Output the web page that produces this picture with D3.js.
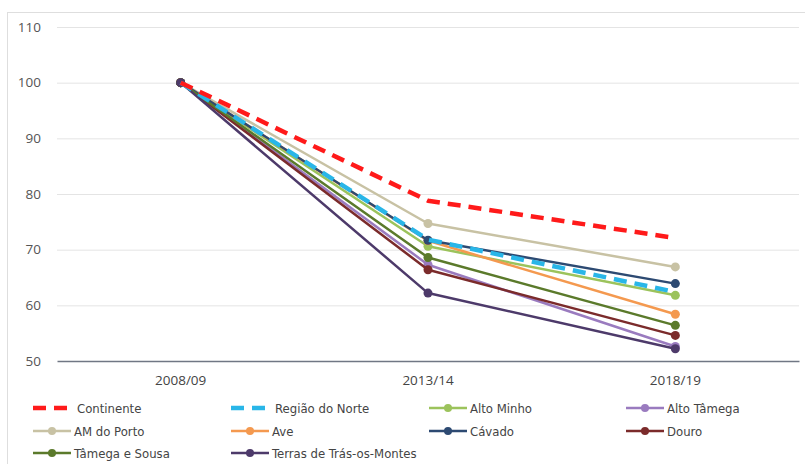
<!DOCTYPE html>
<html>
<head>
<meta charset="utf-8">
<script src="https://cdn.jsdelivr.net/npm/d3@7"></script>
<style>
  html, body { margin: 0; padding: 0; background: #fff; }
  svg { display: block; }
</style>
</head>
<body>
<svg id="chart" width="805" height="464"></svg>
<script>
// School-year periods (x axis)
const periods = ["2008/09", "2013/14", "2018/19"];

// Index values (2008/09 = 100)
const continente      = [100, 78.8, 72.1];
const regiaoNorte     = [100, 71.8, 62.4];
const altoMinho       = [100, 70.6, 61.8];
const altoTamega      = [100, 67.3, 52.6];
const amPorto         = [100, 74.7, 66.9];
const ave             = [100, 71.6, 58.4];
const cavado          = [100, 71.7, 63.9];
const douro           = [100, 66.4, 54.6];
const tamegaSousa     = [100, 68.6, 56.4];
const terrasTrasMontes = [100, 62.2, 52.2];

const yTicks = [50, 60, 70, 80, 90, 100, 110];

const series = [
  { name: "Continente", values: continente, color: "#ff1a1a", dashed: true },
  { name: "Região do Norte", values: regiaoNorte, color: "#29b6e8", dashed: true },
  { name: "Alto Minho", values: altoMinho, color: "#9cc35c" },
  { name: "Alto Tâmega", values: altoTamega, color: "#9a7bbf" },
  { name: "AM do Porto", values: amPorto, color: "#c8c2a4" },
  { name: "Ave", values: ave, color: "#f4994f" },
  { name: "Cávado", values: cavado, color: "#2d4a72" },
  { name: "Douro", values: douro, color: "#7b2b2b" },
  { name: "Tâmega e Sousa", values: tamegaSousa, color: "#5b7a2b" },
  { name: "Terras de Trás-os-Montes", values: terrasTrasMontes, color: "#4d3a6a" }
];

const svg = d3.select("#chart");

// outer frame
svg.append("rect")
  .attr("x", 7.5).attr("y", 12.5)
  .attr("width", 820).attr("height", 470)
  .attr("fill", "none").attr("stroke", "#dedede").attr("stroke-width", 1);

const plot = { left: 57, right: 799, top: 27, bottom: 361 };

const x = d3.scaleBand().domain(periods).range([plot.left, plot.right]);
const y = d3.scaleLinear().domain([50, 110]).range([plot.bottom, plot.top]);
const cx = p => x(p) + x.bandwidth() / 2;

// horizontal gridlines
const yAxis = d3.axisLeft(y).tickValues(yTicks).tickSize(-(plot.right - plot.left)).tickPadding(16);
const gy = svg.append("g").attr("transform", `translate(${plot.left},0)`).call(yAxis);
gy.select(".domain").remove();
gy.selectAll(".tick line").attr("stroke", "#e4e4e4").attr("stroke-width", 1);
gy.selectAll(".tick text")
  .attr("fill", "#555").attr("font-size", 13.5)
  .attr("font-family", "'Open Sans', 'DejaVu Sans', sans-serif");
gy.selectAll(".tick").filter(d => d === 50).select("line").remove();

// x axis
const xAxis = d3.axisBottom(x).tickSize(0).tickPadding(14);
const gx = svg.append("g").attr("transform", `translate(0,${plot.bottom})`).call(xAxis);
gx.select(".domain").attr("stroke", "#707784").attr("stroke-width", 1.6);
gx.selectAll(".tick text")
  .attr("fill", "#444").attr("font-size", 13.5)
  .attr("font-family", "'Open Sans', 'DejaVu Sans', sans-serif");

const line = d3.line().x((d, i) => cx(periods[i])).y(d => y(d));

// draw order: solid regions first, dashed aggregates on top
const drawOrder = series.filter(s => !s.dashed).concat(series.filter(s => s.dashed).reverse());

drawOrder.forEach(s => {
  const g = svg.append("g");
  g.append("path")
    .datum(s.values)
    .attr("d", line)
    .attr("fill", "none")
    .attr("stroke", s.color)
    .attr("stroke-width", s.dashed ? 4.5 : 2.5)
    .attr("stroke-dasharray", s.dashed ? "13,8" : null)
    .attr("stroke-linejoin", "round");
  if (!s.dashed) {
    g.selectAll("circle")
      .data(s.values)
      .enter().append("circle")
      .attr("cx", (d, i) => cx(periods[i]))
      .attr("cy", d => y(d))
      .attr("r", 4.5)
      .attr("fill", s.color);
  }
});

// legend
const legend = svg.append("g");
const colX = [33, 231, 429, 626];
const rowY = [408, 431, 453];
series.forEach((s, i) => {
  const cxL = colX[i % 4], cyL = rowY[Math.floor(i / 4)];
  const g = legend.append("g").attr("transform", `translate(${cxL},${cyL})`);
  if (s.dashed) {
    g.append("line").attr("x1", 0).attr("x2", 34).attr("y1", 0).attr("y2", 0)
      .attr("stroke", s.color).attr("stroke-width", 4.5).attr("stroke-dasharray", "13,8");
    g.append("text").attr("x", 44).attr("y", 0).attr("dy", "0.35em")
      .text(s.name);
  } else {
    g.append("line").attr("x1", 0).attr("x2", 38).attr("y1", 0).attr("y2", 0)
      .attr("stroke", s.color).attr("stroke-width", 2.5);
    g.append("circle").attr("cx", 19).attr("cy", 0).attr("r", 4).attr("fill", s.color);
    g.append("text").attr("x", 41).attr("y", 0).attr("dy", "0.35em")
      .text(s.name);
  }
});
legend.selectAll("text")
  .attr("fill", "#444").attr("font-size", 13)
  .attr("font-family", "'Liberation Sans Narrow', 'DejaVu Sans Condensed', sans-serif");
</script>
</body>
</html>
